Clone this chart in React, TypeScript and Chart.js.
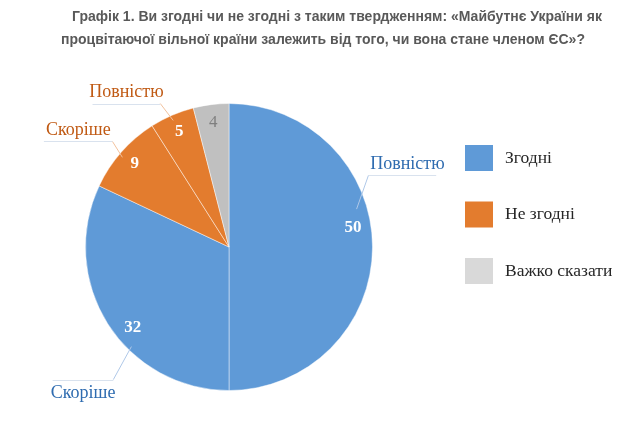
import React, { useEffect, useRef } from "react";
import { Chart, registerables } from "chart.js";

Chart.register(...registerables);

const titleLines = [
  "Графік 1. Ви згодні чи не згодні з таким твердженням: «Майбутнє України як",
  "процвітаючої вільної країни залежить від того, чи вона стане членом ЄС»?",
];
const sliceValues = [50, 32, 9, 5, 4];
const sliceGroups = ["Згодні", "Згодні", "Не згодні", "Не згодні", "Важко сказати"];
const sliceDetails = ["Повністю", "Скоріше", "Скоріше", "Повністю", ""];
const legendLabels = ["Згодні", "Не згодні", "Важко сказати"];

const groupColor: Record<string, string> = {
  "Згодні": "#5F9AD7",
  "Не згодні": "#E37C2E",
  "Важко сказати": "#C0C0C0",
};
const legendColor: Record<string, string> = {
  "Згодні": "#5F9AD7",
  "Не згодні": "#E37C2E",
  "Важко сказати": "#D9D9D9",
};
const groupTextColor: Record<string, string> = {
  "Згодні": "#2F6CB0",
  "Не згодні": "#C05A14",
  "Важко сказати": "#7F7F7F",
};
const groupLeaderColor: Record<string, string> = {
  "Згодні": "#AFC8E8",
  "Не згодні": "#F2C19C",
  "Важко сказати": "#D0D0D0",
};

// label layout (in pie-radius units relative to the pie centre)
const valueAngleShift = [-9, -7.6, 0, 0, 0];
const callouts: Record<number, { s: number[]; e: number[]; end: number[]; tx: number; ty: number; above: boolean }> = {
  0: { s: [0.889, -0.264], e: [0.972, -0.5], end: [1.444, -0.5], tx: 1.243, ty: -0.535, above: true },
  1: { s: [-0.68, 0.694], e: [-0.806, 0.924], end: [-1.229, 0.924], tx: -1.017, ty: 0.955, above: false },
  2: { s: [-0.743, -0.625], e: [-0.8125, -0.736], end: [-1.29, -0.736], tx: -1.05, ty: -0.77, above: true },
  3: { s: [-0.389, -0.882], e: [-0.479, -1.0], end: [-0.951, -1.0], tx: -0.715, ty: -1.035, above: true },
};

const labelPlugin = {
  id: "customLabels",
  afterDraw(chart: any) {
    const ctx = chart.ctx as CanvasRenderingContext2D;
    ctx.save();
    // title
    ctx.fillStyle = "#595959";
    ctx.font = "bold 14px 'Liberation Sans', Arial, sans-serif";
    ctx.textAlign = "center";
    ctx.textBaseline = "middle";
    ctx.fillText(titleLines[0], 337, 17);
    ctx.fillText(titleLines[1], 323, 40);

    const meta = chart.getDatasetMeta(0);
    meta.data.forEach((arc: any, i: number) => {
      const cx = arc.x, cy = arc.y, r = arc.outerRadius;
      const group = sliceGroups[i];
      // value label
      const mid = (arc.startAngle + arc.endAngle) / 2 + (valueAngleShift[i] * Math.PI) / 180;
      const vx = cx + Math.cos(mid) * r * 0.875;
      const vy = cy + Math.sin(mid) * r * 0.875;
      const isGray = group === "Важко сказати";
      ctx.fillStyle = isGray ? "#7F7F7F" : "#FFFFFF";
      ctx.font = (isGray ? "" : "bold ") + "17px 'Liberation Serif', 'Times New Roman', serif";
      ctx.textAlign = "center";
      ctx.textBaseline = "middle";
      ctx.fillText(String(sliceValues[i]), vx, vy);

      const c = callouts[i];
      if (c && sliceDetails[i]) {
        ctx.strokeStyle = groupLeaderColor[group];
        ctx.lineWidth = 1;
        ctx.beginPath();
        ctx.moveTo(cx + c.s[0] * r, cy + c.s[1] * r);
        ctx.lineTo(cx + c.e[0] * r, cy + c.e[1] * r);
        ctx.stroke();
        ctx.strokeStyle = "#D9E2EE";
        ctx.beginPath();
        ctx.moveTo(cx + c.e[0] * r, Math.round(cy + c.e[1] * r) + 0.5);
        ctx.lineTo(cx + c.end[0] * r, Math.round(cy + c.end[1] * r) + 0.5);
        ctx.stroke();
        ctx.fillStyle = groupTextColor[group];
        ctx.font = "18px 'Liberation Serif', 'Times New Roman', serif";
        ctx.textAlign = "center";
        ctx.textBaseline = c.above ? "bottom" : "top";
        ctx.fillText(sliceDetails[i], cx + c.tx * r, cy + c.ty * r + (c.above ? 3 : 0));
      }
    });

    // legend
    legendLabels.forEach((lab, i) => {
      const y = 145 + i * 56.5;
      ctx.fillStyle = legendColor[lab];
      ctx.fillRect(465, y, 28, 26);
      ctx.fillStyle = "#262626";
      ctx.font = "17.5px 'Liberation Serif', 'Times New Roman', serif";
      ctx.textAlign = "left";
      ctx.textBaseline = "middle";
      ctx.fillText(lab, 505, y + 13);
    });
    ctx.restore();
  },
};

export default function App() {
  const ref = useRef<HTMLCanvasElement | null>(null);
  useEffect(() => {
    if (!ref.current) return;
    const chart = new Chart(ref.current, {
      type: "pie",
      data: {
        labels: sliceValues.map((_, i) => `${sliceGroups[i]} ${sliceDetails[i]}`.trim()),
        datasets: [
          {
            data: sliceValues,
            backgroundColor: sliceGroups.map((g) => groupColor[g]),
            borderColor: "rgba(255,255,255,0.45)",
            borderWidth: 1,
          },
        ],
      },
      options: {
        animation: false,
        responsive: true,
        maintainAspectRatio: false,
        layout: { padding: { top: 103, bottom: 31, left: 85, right: 266 } },
        plugins: {
          legend: { display: false },
          title: { display: false },
          tooltip: { enabled: false },
        },
      },
      plugins: [labelPlugin],
    });
    return () => chart.destroy();
  }, []);
  return (
    <div style={{ position: "fixed", left: 0, top: 0, width: 639, height: 422, background: "#fff" }}>
      <canvas ref={ref} />
    </div>
  );
}
